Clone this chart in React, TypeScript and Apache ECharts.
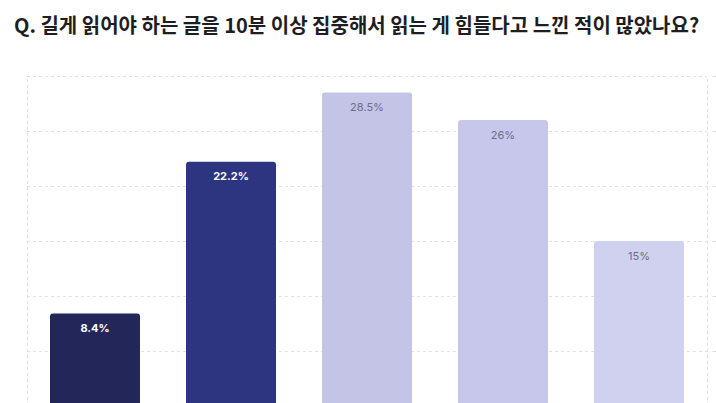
import * as echarts from 'echarts';
import { useEffect, useRef } from 'react';

const TITLE = 'Q. 길게 읽어야 하는 글을 10분 이상 집중해서 읽는 게 힘들다고 느낀 적이 많았나요?';
const CATEGORIES = ['매우 그렇다', '그렇다', '보통이다', '그렇지 않다', '전혀 그렇지 않다'];
const VALUES = [8.4, 22.2, 28.5, 26, 15];
const BAR_COLORS = ['#232659', '#2d3480', '#c3c4e6', '#c6c7ea', '#d0d1ef'];
const DARK_BARS = [true, true, false, false, false];

const AXIS_MIN = 0;
const AXIS_MAX = 30;
const AXIS_STEP = 5;

export default function App() {
  const ref = useRef<HTMLDivElement | null>(null);

  useEffect(() => {
    if (!ref.current) return undefined;
    const chart = echarts.init(ref.current, undefined, { renderer: 'svg' });

    const dashed = { color: '#e2e2e6', width: 1, type: [3, 3] as number[] };
    const valueAxis = { type: 'value', min: AXIS_MIN, max: AXIS_MAX, interval: AXIS_STEP };

    chart.setOption({
      animation: false,
      title: {
        text: TITLE,
        left: 9,
        top: 9,
        textStyle: {
          fontFamily: '"Noto Sans CJK KR", sans-serif',
          fontSize: 20,
          fontWeight: 'bold',
          color: '#1e1e22',
        },
      },
      // chart div is taller than the visible window; zero line sits just below it
      grid: { left: 27, right: 9, top: 76, bottom: 54, outerBoundsMode: 'none', containLabel: false },
      xAxis: {
        type: 'category',
        data: CATEGORIES,
        axisLine: { show: false },
        axisTick: { show: false },
        axisLabel: { show: false },
      },
      yAxis: [
        {
          ...valueAxis,
          position: 'left',
          axisLine: { show: true, lineStyle: dashed },
          axisTick: { show: false },
          axisLabel: { show: false },
          splitLine: { show: true, lineStyle: dashed },
        },
        {
          ...valueAxis,
          position: 'right',
          axisLine: { show: true, lineStyle: dashed },
          axisTick: { show: false },
          axisLabel: { show: false },
          splitLine: { show: false },
        },
        {
          // faint marks at the right edge where the clipped tick labels peek in
          ...valueAxis,
          position: 'right',
          offset: 6,
          axisLine: { show: false },
          axisTick: { show: true, length: 3, lineStyle: { color: '#d8d8de' } },
          axisLabel: { show: false },
          splitLine: { show: false },
        },
      ],
      series: [
        {
          type: 'bar',
          yAxisIndex: 0,
          barWidth: 90,
          data: VALUES.map((v, i) => ({
            value: v,
            itemStyle: { color: BAR_COLORS[i], borderRadius: [3, 3, 0, 0] },
            label: DARK_BARS[i]
              ? { color: '#ffffff', fontWeight: 'bold' }
              : { color: '#6c6d88', fontWeight: 'normal' },
          })),
          label: {
            show: true,
            position: 'insideTop',
            distance: 9,
            fontSize: 11,
            fontFamily: 'Inter, sans-serif',
            formatter: (p: { value: number }) => `${p.value}%`,
          },
        },
      ],
    });

    return () => chart.dispose();
  }, []);

  return (
    <div style={{ position: 'fixed', left: 0, top: 0, width: 716, height: 403, overflow: 'hidden', background: '#fff' }}>
      <div ref={ref} style={{ width: 716, height: 460 }} />
    </div>
  );
}
